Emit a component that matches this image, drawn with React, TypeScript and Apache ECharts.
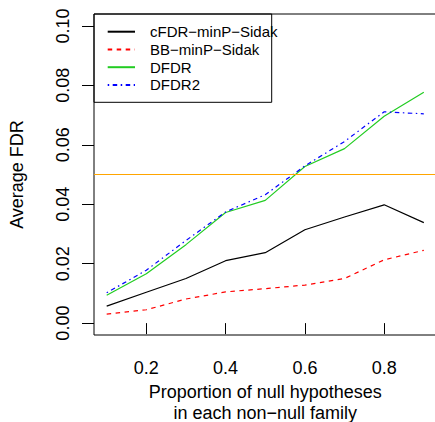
import React, { useEffect, useRef } from "react";
import * as echarts from "echarts";

// proportion of null hypotheses in each non-null family
const proportions = [0.1, 0.2, 0.3, 0.4, 0.5, 0.6, 0.7, 0.8, 0.9];
// average FDR per method
const cfdrMinPSidak = [0.0057, 0.0104, 0.015, 0.021, 0.0237, 0.0314, 0.0357, 0.0398, 0.0338];
const bbMinPSidak = [0.003, 0.0045, 0.0081, 0.0105, 0.0116, 0.0128, 0.015, 0.0213, 0.0245];
const dfdr = [0.0094, 0.0166, 0.0264, 0.0372, 0.0413, 0.0527, 0.0587, 0.0696, 0.0777];
const dfdr2 = [0.0102, 0.0178, 0.0278, 0.0374, 0.0432, 0.0529, 0.0611, 0.0711, 0.0704];
const seriesNames = ["cFDR\u2212minP\u2212Sidak", "BB\u2212minP\u2212Sidak", "DFDR", "DFDR2"];
const xTicks = [0.2, 0.4, 0.6, 0.8];
const yTicks = [0, 0.02, 0.04, 0.06, 0.08, 0.1];
const fdrLevel = 0.05;

const FONT = '"Liberation Sans", Arial, Helvetica, sans-serif';

export default function App() {
  const ref = useRef<HTMLDivElement>(null);
  useEffect(() => {
    document.body.style.margin = "0";
    const chart = echarts.init(ref.current!, null, { renderer: "svg" });
    const pairs = (ys: number[]) => proportions.map((x, i) => [x, ys[i]]);
    const lw = 1.2;
    chart.setOption({
      animation: false,
      backgroundColor: "#fff",
      textStyle: { fontFamily: FONT },
      grid: {
        left: 94,
        top: 14,
        width: 342.5,
        height: 321,
        containLabel: false,
        outerBoundsMode: "none",
        show: true,
        borderColor: "#000",
        borderWidth: 1,
        backgroundColor: "transparent",
      },
      xAxis: {
        type: "value",
        min: 0.068,
        max: 0.932,
        axisLine: { show: false },
        splitLine: { show: false },
        axisTick: {
          show: true,
          customValues: xTicks,
          length: 11,
          lineStyle: { color: "#000", width: 1 },
        },
        axisLabel: {
          customValues: xTicks,
          formatter: (v: number) => v.toFixed(1),
          fontSize: 18,
          color: "#000",
          margin: 24,
          fontFamily: FONT,
        },
        name: "Proportion of null hypotheses\nin each non\u2212null family",
        nameLocation: "middle",
        nameGap: 37,
        nameTextStyle: { fontSize: 18, color: "#000", lineHeight: 21, fontFamily: FONT },
      },
      yAxis: {
        type: "value",
        min: -0.004,
        max: 0.104,
        axisLine: { show: false },
        splitLine: { show: false },
        axisTick: {
          show: true,
          customValues: yTicks,
          length: 12,
          lineStyle: { color: "#000", width: 1 },
        },
        axisLabel: {
          customValues: yTicks,
          formatter: (v: number) => v.toFixed(2),
          fontSize: 18,
          color: "#000",
          rotate: 90,
          margin: 22,
          fontFamily: FONT,
        },
        name: "Average FDR",
        nameLocation: "middle",
        nameRotate: 90,
        nameGap: 68,
        nameTextStyle: { fontSize: 18, color: "#000", fontFamily: FONT },
      },
      legend: {
        orient: "vertical",
        left: 106.7,
        top: 24.2,
        padding: 0,
        itemWidth: 27.3,
        itemHeight: 14,
        itemGap: 2.75,
        data: seriesNames,
        itemStyle: { color: "transparent", borderColor: "transparent", borderWidth: 0, opacity: 0 },
        textStyle: {
          fontSize: 15,
          lineHeight: 15,
          color: "#000",
          fontFamily: FONT,
          padding: [0, 0, 0, 10],
        },
      },
      graphic: [
        {
          type: "rect",
          shape: { x: 94, y: 14, width: 177.7, height: 88.3 },
          style: { fill: "none", stroke: "#000", lineWidth: 1 },
          silent: true,
          z: 100,
        },
      ],
      series: [
        {
          name: seriesNames[0],
          type: "line",
          data: pairs(cfdrMinPSidak),
          symbol: "none",
          lineStyle: { color: "#000", width: lw, type: "solid" },
          itemStyle: { color: "#000" },
          markLine: {
            silent: true,
            symbol: ["none", "none"],
            label: { show: false },
            lineStyle: { color: "#FFA500", width: lw, type: "solid" },
            data: [{ yAxis: fdrLevel }],
          },
        },
        {
          name: seriesNames[1],
          type: "line",
          data: pairs(bbMinPSidak),
          symbol: "none",
          lineStyle: { color: "#FF0000", width: lw, type: [4.5, 4.5] },
          itemStyle: { color: "#FF0000" },
        },
        {
          name: seriesNames[2],
          type: "line",
          data: pairs(dfdr),
          symbol: "none",
          lineStyle: { color: "#22CC22", width: lw, type: "solid" },
          itemStyle: { color: "#22CC22" },
        },
        {
          name: seriesNames[3],
          type: "line",
          data: pairs(dfdr2),
          symbol: "none",
          lineStyle: { color: "#0000FF", width: lw, type: [1.5, 3.5, 4.5, 3.5] },
          itemStyle: { color: "#0000FF" },
        },
      ],
    });
    return () => chart.dispose();
  }, []);
  return <div ref={ref} style={{ width: 435, height: 422 }} />;
}
